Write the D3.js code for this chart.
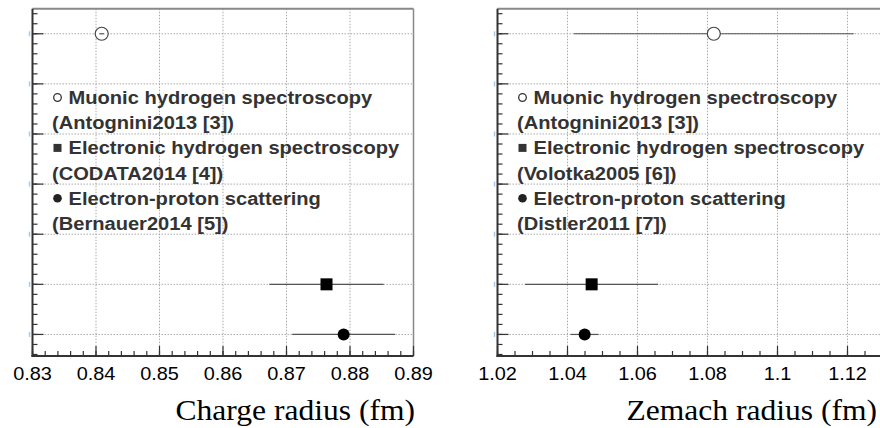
<!DOCTYPE html>
<html>
<head>
<meta charset="utf-8">
<script src="https://cdn.jsdelivr.net/npm/d3@7"></script>
<style>
  body { margin: 0; background: #fff; }
  svg { display: block; }
</style>
</head>
<body>
<svg width="880" height="428"></svg>
<script>
// Measurements, one row per method
const methods = ['Muonic hydrogen spectroscopy', 'Electronic hydrogen spectroscopy', 'Electron-proton scattering']
const markers = ['openCircle', 'square', 'circle']
const rows = [6, 1, 0]

const chargeValues = [0.8409, 0.8763, 0.8790]
const chargeErrors = [0.0004, 0.0090, 0.0081]
const chargeRefs = ['(Antognini2013 [3])', '(CODATA2014 [4])', '(Bernauer2014 [5])']
const chargeTicks = [0.83, 0.84, 0.85, 0.86, 0.87, 0.88, 0.89]

const zemachValues = [1.0818, 1.0469, 1.0449]
const zemachErrors = [0.0400, 0.0190, 0.0040]
const zemachRefs = ['(Antognini2013 [3])', '(Volotka2005 [6])', '(Distler2011 [7])']
const zemachTicks = [1.02, 1.04, 1.06, 1.08, 1.1, 1.12]

const svg = d3.select('svg')
// the original glyphs are a little wider than Liberation's
const stretch = 1.07

function drawPanel(opts) {
  const { left, right, domain, ticks, minorStep, values, errors, refs, title, titleEnd } = opts
  const top = 8.7
  const bottom = 356

  const x = d3.scaleLinear().domain(domain).range([left, right])
  const y = d3.scaleLinear().domain([-0.43, 6.5]).range([bottom, top])

  const g = svg.append('g')

  // Grid (dotted)
  g.selectAll('.vgrid')
    .data(ticks.filter(d => d > domain[0] && d < domain[1]))
    .enter().append('line')
    .attr('x1', d => x(d)).attr('x2', d => x(d))
    .attr('y1', top).attr('y2', bottom)
    .attr('stroke', '#aaa').attr('stroke-width', 1)
    .attr('stroke-dasharray', '1.5,1.5')
  g.selectAll('.hgrid')
    .data(d3.range(0, 7))
    .enter().append('line')
    .attr('x1', left).attr('x2', right)
    .attr('y1', d => y(d)).attr('y2', d => y(d))
    .attr('stroke', '#aaa').attr('stroke-width', 1)
    .attr('stroke-dasharray', '1.5,1.5')

  // Frame top/right
  g.append('line').attr('x1', left).attr('x2', right).attr('y1', top).attr('y2', top)
    .attr('stroke', '#888').attr('stroke-width', 2)
  g.append('line').attr('x1', right).attr('x2', right).attr('y1', top).attr('y2', bottom)
    .attr('stroke', '#888').attr('stroke-width', 1.5)

  // Bottom axis with inward ticks
  const minor = d3.range(domain[0], domain[1] + 1e-9, minorStep)
  g.selectAll('.xminor')
    .data(minor)
    .enter().append('line')
    .attr('x1', d => x(d)).attr('x2', d => x(d))
    .attr('y1', bottom).attr('y2', bottom - 5)
    .attr('stroke', '#333').attr('stroke-width', 1.2)
  g.selectAll('.xmajor')
    .data(ticks)
    .enter().append('line')
    .attr('x1', d => x(d)).attr('x2', d => x(d))
    .attr('y1', bottom).attr('y2', bottom - 10)
    .attr('stroke', '#333').attr('stroke-width', 1.2)

  // Left axis with inward ticks
  g.selectAll('.yminor')
    .data(d3.range(-0.4, 6.5, 0.2))
    .enter().append('line')
    .attr('x1', left).attr('x2', left + 5)
    .attr('y1', d => y(d)).attr('y2', d => y(d))
    .attr('stroke', '#333').attr('stroke-width', 1.2)
  g.selectAll('.ymajor')
    .data(d3.range(0, 7))
    .enter().append('line')
    .attr('x1', left).attr('x2', left + 11)
    .attr('y1', d => y(d)).attr('y2', d => y(d))
    .attr('stroke', '#333').attr('stroke-width', 1.2)
  // faint blue stubs left of the axis
  g.selectAll('.ystub')
    .data(d3.range(0, 7))
    .enter().append('line')
    .attr('x1', left - 3).attr('x2', left - 3)
    .attr('y1', d => y(d) - 2.5).attr('y2', d => y(d) + 2.5)
    .attr('stroke', '#a9c8e8').attr('stroke-width', 1.5)

  g.append('line').attr('x1', left).attr('x2', left).attr('y1', top).attr('y2', bottom + 1)
    .attr('stroke', '#333').attr('stroke-width', 2)
  g.append('line').attr('x1', left - 1).attr('x2', right).attr('y1', bottom).attr('y2', bottom)
    .attr('stroke', '#333').attr('stroke-width', 2)

  // Tick labels
  g.selectAll('.xlabel')
    .data(ticks)
    .enter().append('text')
    .attr('transform', d => `translate(${x(d)},380) scale(${stretch},1)`)
    .attr('text-anchor', 'middle')
    .attr('font-family', 'Liberation Sans, Arial, sans-serif')
    .attr('font-size', 18.6)
    .attr('fill', '#000')
    .text(d => d3.format('')(+d.toFixed(2)))

  // Axis title
  g.append('text')
    .attr('transform', `translate(${titleEnd},420) scale(${stretch},1)`)
    .attr('text-anchor', 'end')
    .attr('font-family', 'Liberation Serif, Times New Roman, serif')
    .attr('font-size', 29.5)
    .attr('fill', '#000')
    .text(title)

  // Legend text
  const lineH = 25.2
  const base = 104
  const legend = g.append('g')
    .attr('font-family', 'Liberation Sans, Arial, sans-serif')
    .attr('font-weight', 'bold')
    .attr('font-size', 18.8)
    .attr('fill', '#333')
  methods.forEach((m, i) => {
    const yy = base + 2 * i * lineH
    const mx = left + 25
    const my = yy - 6.5
    if (markers[i] === 'openCircle') {
      legend.append('circle').attr('cx', mx).attr('cy', my).attr('r', 3.8)
        .attr('fill', 'none').attr('stroke', '#333').attr('stroke-width', 1.3)
    } else if (markers[i] === 'square') {
      legend.append('rect').attr('x', mx - 4).attr('y', my - 4).attr('width', 8).attr('height', 8)
        .attr('fill', '#333')
    } else {
      legend.append('circle').attr('cx', mx).attr('cy', my).attr('r', 4.3).attr('fill', '#222')
    }
    legend.append('text')
      .attr('transform', `translate(${left + 36},${yy}) scale(${stretch},1)`)
      .text(m)
    legend.append('text')
      .attr('transform', `translate(${left + 19.5},${yy + lineH}) scale(${stretch},1)`)
      .text(refs[i])
  })

  // Error bars and markers
  const pts = g.selectAll('.pt')
    .data(values.map((v, i) => ({ v, e: errors[i], row: rows[i], marker: markers[i] })))
    .enter().append('g')

  pts.each(function (d) {
    const el = d3.select(this)
    const cx = x(d.v)
    const cy = y(d.row)
    if (d.marker === 'openCircle') {
      el.append('circle').attr('cx', cx).attr('cy', cy).attr('r', 6.5)
        .attr('fill', '#fff').attr('stroke', '#444').attr('stroke-width', 1.2)
      el.append('line')
        .attr('x1', x(d.v - d.e)).attr('x2', x(d.v + d.e))
        .attr('y1', cy).attr('y2', cy)
        .attr('stroke', '#555').attr('stroke-width', 1.2)
      // keep the marker outline on top where the bar is wider than it
      if (x(d.v + d.e) - cx > 6.5) {
        el.select('line').lower()
      }
    } else {
      el.append('line')
        .attr('x1', x(d.v - d.e)).attr('x2', x(d.v + d.e))
        .attr('y1', cy).attr('y2', cy)
        .attr('stroke', '#555').attr('stroke-width', 1.2)
      if (d.marker === 'square') {
        el.append('rect').attr('x', cx - 6).attr('y', cy - 6).attr('width', 12).attr('height', 12)
          .attr('fill', '#000')
      } else {
        el.append('circle').attr('cx', cx).attr('cy', cy).attr('r', 6).attr('fill', '#000')
      }
    }
  })
}

drawPanel({
  left: 32.5, right: 413.5, domain: [0.83, 0.89], ticks: chargeTicks, minorStep: 0.002,
  values: chargeValues, errors: chargeErrors, refs: chargeRefs,
  title: 'Charge radius (fm)', titleEnd: 415
})

drawPanel({
  left: 497.5, right: 917.5, domain: [1.02, 1.14], ticks: zemachTicks, minorStep: 0.005,
  values: zemachValues, errors: zemachErrors, refs: zemachRefs,
  title: 'Zemach radius (fm)', titleEnd: 877
})
</script>
</body>
</html>
